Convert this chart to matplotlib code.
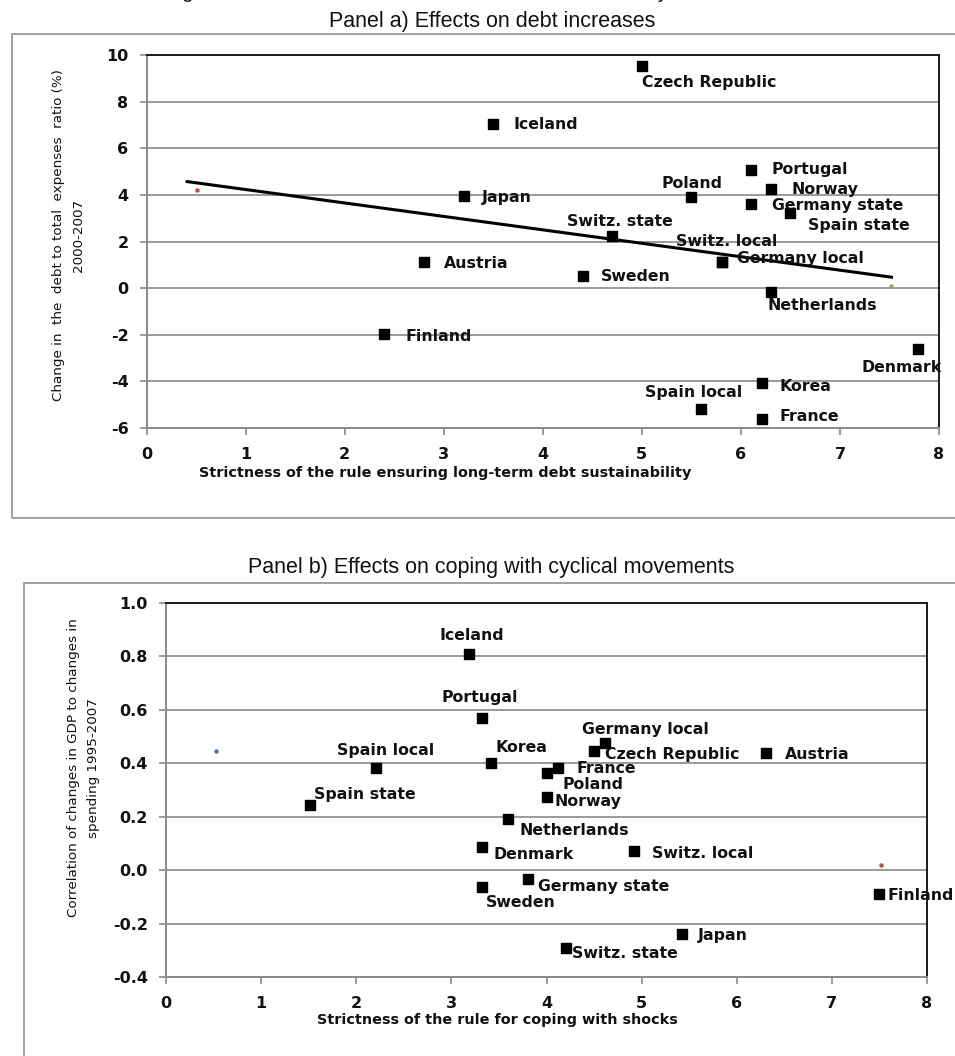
import matplotlib
matplotlib.use("Agg")
import matplotlib.pyplot as plt
from matplotlib.patches import Rectangle

# panel a) debt increases vs strictness of the sustainability rule
debt_names = ["Czech Republic", "Iceland", "Japan", "Poland", "Portugal", "Norway",
              "Germany state", "Spain state", "Switz. state", "Switz. local",
              "Germany local", "Sweden", "Austria", "Netherlands", "Finland",
              "Denmark", "Korea", "Spain local", "France"]
debt_x = [5.00, 3.50, 3.20, 5.50, 6.10, 6.30, 6.10, 6.50, 4.70, 5.81,
          5.81, 4.41, 2.80, 6.30, 2.40, 7.79, 6.21, 5.60, 6.21]
debt_y = [9.53, 7.03, 3.96, 3.90, 5.07, 4.26, 3.60, 3.21, 2.24, 1.10,
          1.10, 0.54, 1.10, -0.17, -1.97, -2.60, -4.07, -5.19, -5.62]
trend_x = [0.41, 7.52]
trend_y = [4.57, 0.47]

# panel b) cyclical movements vs strictness of the shock rule
cycl_names = ["Iceland", "Portugal", "Spain local", "Spain state", "Germany local",
              "Czech Republic", "Austria", "Korea", "France", "Poland", "Norway",
              "Netherlands", "Denmark", "Switz. local", "Germany state", "Sweden",
              "Finland", "Japan", "Switz. state"]
cycl_x = [3.19, 3.32, 2.21, 1.51, 4.62, 4.50, 6.31, 3.42, 4.12, 4.01, 4.01,
          3.60, 3.32, 4.92, 3.81, 3.32, 7.50, 5.42, 4.21]
cycl_y = [0.81, 0.568, 0.381, 0.245, 0.477, 0.445, 0.44, 0.40, 0.384, 0.365, 0.272,
          0.19, 0.086, 0.071, -0.032, -0.064, -0.091, -0.24, -0.29]

# label placement: (dx, dy) in pixels, horizontal alignment
debt_offsets = {
    "Czech Republic": (0, -17, "left"), "Iceland": (20, 0, "left"),
    "Japan": (18, -2, "left"), "Poland": (1, 14, "center"),
    "Portugal": (21, 0, "left"), "Norway": (21, -1, "left"),
    "Germany state": (21, -1, "left"), "Spain state": (18, -12, "left"),
    "Switz. state": (8, 14, "center"), "Switz. local": (5, 21, "center"),
    "Germany local": (15, 4, "left"), "Sweden": (18, -1, "left"),
    "Austria": (20, -1, "left"), "Netherlands": (-3, -13, "left"),
    "Finland": (21, -2, "left"), "Denmark": (-57, -19, "left"),
    "Korea": (18, -3, "left"), "Spain local": (-8, 17, "center"),
    "France": (18, 3, "left"),
}
cycl_offsets = {
    "Iceland": (2, 18, "center"), "Portugal": (-2, 21, "center"),
    "Spain local": (9, 18, "center"), "Spain state": (4, 10, "left"),
    "Germany local": (40, 13, "center"), "Czech Republic": (11, -3, "left"),
    "Austria": (19, -2, "left"), "Korea": (30, 16, "center"),
    "France": (19, -1, "left"), "Poland": (15, -12, "left"),
    "Norway": (7, -4, "left"), "Netherlands": (11, -11, "left"),
    "Denmark": (12, -7, "left"), "Switz. local": (18, -2, "left"),
    "Germany state": (10, -8, "left"), "Sweden": (4, -15, "left"),
    "Finland": (8, -1, "left"), "Japan": (16, -1, "left"),
    "Switz. state": (6, -6, "left"),
}

W, H = 955, 1056
GRID = "#9a9a9a"


def px_rect(l, t, r, b):
    return [l / W, 1 - b / H, (r - l) / W, (b - t) / H]


def style_axes(ax, yticks, yfmt):
    ax.set_xlim(0, 8)
    ax.set_xticks(range(0, 9))
    ax.set_yticks(yticks)
    ax.set_yticklabels([yfmt.format(v) for v in yticks])
    ax.set_ylim(yticks[0], yticks[-1])
    ax.grid(axis="y", color=GRID, lw=1.4)
    ax.set_axisbelow(True)
    for side in ("top", "right"):
        ax.spines[side].set_color("#1a1a1a")
        ax.spines[side].set_linewidth(1.4)
    for side in ("left", "bottom"):
        ax.spines[side].set_color("#8a8a8a")
        ax.spines[side].set_linewidth(1.4)
    ax.tick_params(axis="both", color="#8a8a8a", width=1.2, length=5)
    ax.tick_params(axis="y", pad=8)
    ax.tick_params(axis="x", pad=9)
    for lab in ax.get_xticklabels() + ax.get_yticklabels():
        lab.set_fontweight("bold")
        lab.set_fontsize(11.5)
        lab.set_color("#111111")


def label_points(ax, names, xs, ys, offsets):
    for name, x, y in zip(names, xs, ys):
        dx, dy, ha = offsets[name]
        ax.annotate(name, (x, y), xytext=(dx, dy), textcoords="offset pixels",
                    ha=ha, va="center", fontsize=11.3, fontweight="bold",
                    color="#111111", annotation_clip=False)


fig = plt.figure(figsize=(W / 100, H / 100), dpi=100)

# chart frames
fig.patches.append(Rectangle((12 / W, 1 - 518 / H), 1.0, (518 - 34) / H,
                             transform=fig.transFigure, fill=False,
                             ec="#a0a0a0", lw=1.4))
fig.patches.append(Rectangle((24 / W, -0.05), 1.0, 0.05 + (1056 - 583) / H,
                             transform=fig.transFigure, fill=False,
                             ec="#a0a0a0", lw=1.4))

# figure heading runs off the top of the page
fig.text(499 / W, 1 + 9 / H, "Figure 3. The effects of fiscal rules on debt and on cyclical stabilisation",
         ha="center", va="center", fontsize=15.5, family="Liberation Sans", color="#222222")
fig.text(492 / W, 1 - 21 / H, "Panel a) Effects on debt increases",
         ha="center", va="center", fontsize=15.5, family="Liberation Sans", color="#111111")
fig.text(491 / W, 1 - 568 / H, "Panel b) Effects on coping with cyclical movements",
         ha="center", va="center", fontsize=15.5, family="Liberation Sans", color="#111111")

# panel a
ax_a = fig.add_axes(px_rect(146.5, 55, 939, 428))
style_axes(ax_a, list(range(-6, 11, 2)), "{:d}")
ax_a.plot(trend_x, trend_y, color="black", lw=2.2, zorder=2)
ax_a.scatter(debt_x, debt_y, marker="s", s=52, color="black", zorder=3)
ax_a.plot([0.513], [4.21], "o", ms=2.2, color="#b5524e", zorder=3)
ax_a.plot([7.52], [0.07], "o", ms=2.2, color="#9aaa55", zorder=3)
label_points(ax_a, debt_names, debt_x, debt_y, debt_offsets)
ax_a.text(-0.098, 0.517, "Change in  the  debt to total  expenses  ratio (%)\n2000-2007",
          transform=ax_a.transAxes, rotation=90, ha="center", va="center",
          fontsize=9.7, linespacing=1.7, color="#111111")
ax_a.text(0.377, -0.121, "Strictness of the rule ensuring long-term debt sustainability",
          transform=ax_a.transAxes, ha="center", va="center",
          fontsize=10.4, fontweight="bold", color="#111111")

# panel b
ax_b = fig.add_axes(px_rect(166, 603, 927, 977))
b_ticks = [-0.4, -0.2, 0.0, 0.2, 0.4, 0.6, 0.8, 1.0]
style_axes(ax_b, b_ticks, "{:.1f}")
ax_b.scatter(cycl_x, cycl_y, marker="s", s=52, color="black", zorder=3)
ax_b.plot([0.526], [0.446], "o", ms=2.2, color="#5470a8", zorder=3)
ax_b.plot([7.52], [0.019], "o", ms=2.2, color="#b5524e", zorder=3)
label_points(ax_b, cycl_names, cycl_x, cycl_y, cycl_offsets)
ax_b.text(-0.109, 0.559, "Correlation of changes in GDP to changes in\nspending 1995-2007",
          transform=ax_b.transAxes, rotation=90, ha="center", va="center",
          fontsize=9.7, linespacing=1.7, color="#111111")
ax_b.text(0.435, -0.115, "Strictness of the rule for coping with shocks",
          transform=ax_b.transAxes, ha="center", va="center",
          fontsize=10.4, fontweight="bold", color="#111111")

fig.savefig("out.png", dpi=100)
